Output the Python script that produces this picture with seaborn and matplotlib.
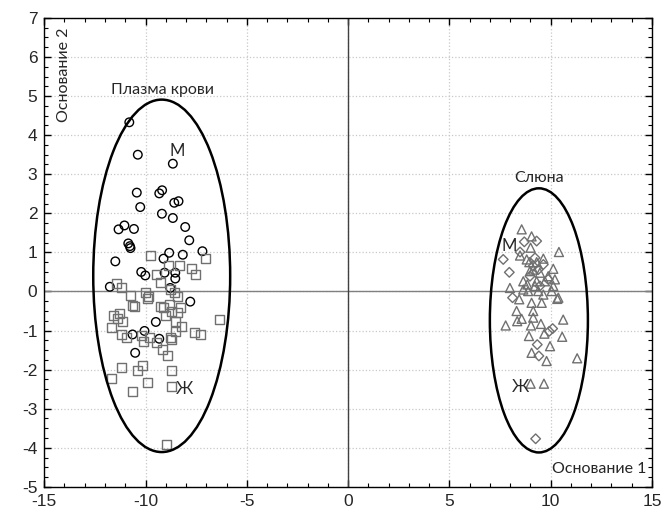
import matplotlib
matplotlib.use("Agg")
import matplotlib.pyplot as plt
from matplotlib.patches import Ellipse
from matplotlib.ticker import MultipleLocator
import seaborn as sns
import pandas as pd

# ---- data ----
plasma_m_x = [-10.80, -10.38, -8.65, -10.43, -9.32, -9.18, -10.26, -8.58, -8.37, -9.19,
              -8.65, -11.33, -11.04, -10.57, -8.04, -7.84, -10.85, -10.77, -10.74, -8.83,
              -9.11, -8.16, -7.19, -11.49, -10.21, -10.01, -9.06, -8.53, -8.53, -11.76,
              -8.78, -7.79, -9.49, -10.64, -10.05, -9.32, -10.51]
plasma_m_y = [4.33, 3.50, 3.27, 2.53, 2.51, 2.59, 2.16, 2.27, 2.31, 1.99,
              1.88, 1.59, 1.69, 1.60, 1.65, 1.31, 1.23, 1.16, 1.11, 0.99,
              0.84, 0.94, 1.03, 0.77, 0.50, 0.41, 0.48, 0.48, 0.33, 0.12,
              0.09, -0.26, -0.78, -1.10, -1.01, -1.21, -1.57]

plasma_f_x = [-9.77, -7.02, -8.86, -8.34, -7.75, -7.51, -9.44, -9.27, -11.41, -11.20,
              -10.75, -9.98, -9.85, -8.77, -8.57, -8.40, -9.90, -10.64, -10.54, -9.26,
              -9.11, -8.83, -8.29, -8.40, -8.70, -9.00, -11.30, -11.58, -11.36, -11.13,
              -8.53, -11.66, -8.24, -6.35, -7.60, -7.30, -11.17, -10.92, -10.18, -10.10,
              -9.82, -9.47, -8.78, -8.53, -8.73, -9.14, -8.90, -11.17, -10.38, -10.13,
              -8.70, -11.69, -9.88, -10.64, -8.70, -8.95]
plasma_f_y = [0.93, 0.85, 0.67, 0.67, 0.59, 0.43, 0.43, 0.24, 0.20, 0.09,
              -0.10, -0.03, -0.12, 0.05, -0.03, -0.12, -0.18, -0.36, -0.38, -0.38,
              -0.42, -0.33, -0.40, -0.55, -0.50, -0.61, -0.57, -0.61, -0.69, -0.78,
              -0.76, -0.93, -0.90, -0.73, -1.04, -1.10, -1.10, -1.19, -1.13, -1.27,
              -1.17, -1.31, -1.17, -1.03, -1.23, -1.48, -1.63, -1.95, -2.02, -1.90,
              -2.01, -2.23, -2.34, -2.55, -2.43, -3.91]

saliva_m_x = [8.70, 9.31, 7.66, 8.49, 7.96, 8.12, 10.10, 9.93, 9.34, 9.42,
              9.26, 8.98, 9.23, 9.64, 9.14, 9.39, 9.88, 9.47]
saliva_m_y = [1.27, 1.29, 0.82, 1.01, 0.49, -0.16, -0.95, -1.02, -1.36, -1.65,
              -3.77, 0.39, 0.86, 0.69, 0.65, 0.56, 0.31, 0.14]

saliva_f_x = [8.57, 9.06, 9.01, 10.41, 8.49, 8.82, 8.95, 9.31, 9.64, 10.13,
              7.99, 8.98, 9.14, 9.47, 9.88, 10.21, 10.13, 8.65, 8.85, 9.31,
              9.23, 9.72, 8.65, 8.89, 9.39, 9.64, 10.05, 10.38, 8.45, 9.06,
              9.56, 10.33, 8.32, 8.35, 8.57, 9.14, 9.14, 10.62, 7.78, 9.03,
              9.52, 9.69, 8.93, 10.57, 9.97, 9.06, 9.80, 11.31, 9.01, 9.67]
saliva_f_y = [1.59, 1.41, 1.12, 1.01, 0.92, 0.82, 0.75, 0.75, 0.84, 0.58,
              0.09, 0.52, 0.56, 0.48, 0.39, 0.31, 0.14, 0.26, 0.18, 0.26,
              0.14, 0.26, 0.05, 0.01, 0.01, -0.08, 0.01, -0.16, -0.20, -0.29,
              -0.29, -0.19, -0.50, -0.76, -0.70, -0.50, -0.67, -0.72, -0.87, -0.87,
              -0.83, -1.08, -1.14, -1.16, -1.40, -1.57, -1.78, -1.71, -2.36, -2.36]

# confidence ellipses: centre x, centre y, full width, full height
ellipse_plasma = (-9.2, 0.40, 6.76, 9.02)
ellipse_saliva = (9.42, -0.74, 4.84, 6.76)

x_ticks = [-15, -10, -5, 0, 5, 10, 15]
y_ticks = [-5, -4, -3, -2, -1, 0, 1, 2, 3, 4, 5, 6, 7]

sns.set_theme(style="white")
plt.rcParams['font.family'] = ['Liberation Sans', 'DejaVu Sans']
plt.rcParams['axes.unicode_minus'] = False

fig = plt.figure(figsize=(6.70, 5.13), dpi=100)
ax = fig.add_axes([0.066, 0.051, 0.907, 0.914])

ax.grid(True, which="major", linestyle=":", color="#c8c8c8", linewidth=0.9)
ax.set_axisbelow(True)
ax.axhline(0, color="#808080", linewidth=1.0, zorder=1)
ax.axvline(0, color="#404040", linewidth=1.0, zorder=1)

groups = [
    (plasma_m_x, plasma_m_y, "o", "#000000", 38),
    (plasma_f_x, plasma_f_y, "s", "#707070", 42),
    (saliva_m_x, saliva_m_y, "D", "#707070", 24),
    (saliva_f_x, saliva_f_y, "^", "#707070", 42),
]
for gx, gy, mk, col, sz in groups:
    df = pd.DataFrame({"x": gx, "y": gy})
    sns.scatterplot(data=df, x="x", y="y", marker=mk, s=sz, facecolor="none",
                    edgecolor=col, linewidth=1.0, ax=ax, zorder=3, legend=False)

for cx, cy, w, h in (ellipse_plasma, ellipse_saliva):
    ax.add_patch(Ellipse((cx, cy), w, h, fill=False, edgecolor="black",
                         linewidth=1.8, zorder=4))

ax.set_xlim(-15, 15)
ax.set_ylim(-5, 7)
ax.set_xticks(x_ticks)
ax.set_yticks(y_ticks)
ax.xaxis.set_minor_locator(MultipleLocator(1))
ax.yaxis.set_minor_locator(MultipleLocator(0.25))
ax.tick_params(which="both", direction="in", top=True, right=True,
               bottom=True, left=True, color="black")
ax.tick_params(which="major", length=5, width=1, labelsize=12.5, pad=5)
ax.tick_params(which="minor", length=3, width=0.8)
ax.set_xlabel("")
ax.set_ylabel("")
for sp in ax.spines.values():
    sp.set_color("black")
    sp.set_linewidth(1.0)

tf = ['Lato', 'DejaVu Sans']
ax.text(-14.35, 6.75, "Основание 2", rotation=90, ha="left", va="top",
        fontsize=11.5, family=tf)
ax.text(14.75, -4.72, "Основание 1", ha="right", va="bottom", fontsize=11.5, family=tf)
ax.text(-9.15, 5.15, "Плазма крови", ha="center", va="center", fontsize=11.5, family=tf)
ax.text(9.45, 2.9, "Слюна", ha="center", va="center", fontsize=11.5, family=tf)
ax.text(-8.45, 3.6, "М", ha="center", va="center", fontsize=12, family=tf)
ax.text(-8.1, -2.5, "Ж", ha="center", va="center", fontsize=12, family=tf)
ax.text(7.95, 1.17, "М", ha="center", va="center", fontsize=12, family=tf)
ax.text(8.5, -2.45, "Ж", ha="center", va="center", fontsize=12, family=tf)

fig.savefig("out.png", dpi=100)
